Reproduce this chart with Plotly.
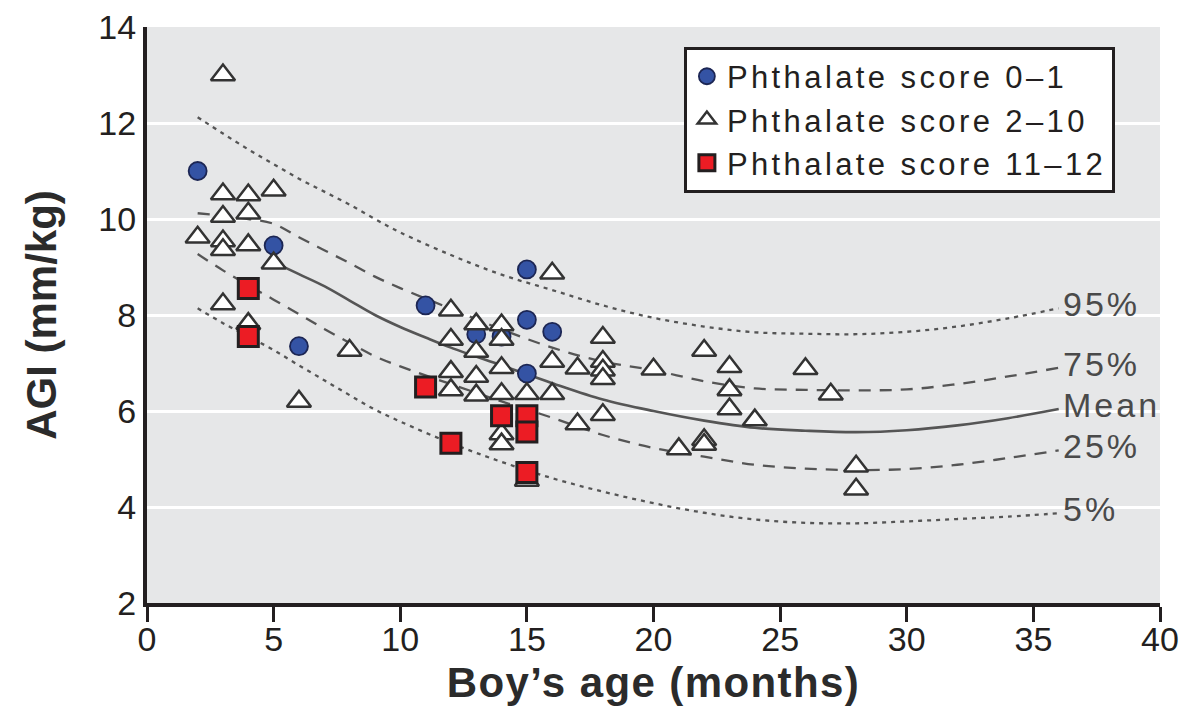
import plotly.graph_objects as go

# Boys' AGI by age, grouped by phthalate exposure score
low_age = [2, 5, 6, 11, 15, 15, 16, 15, 13, 14]
low_agi = [11.0, 9.45, 7.35, 8.2, 8.95, 7.9, 7.65, 6.78, 7.6, 7.55]

mid_age = [3, 3, 4, 5, 3, 4, 2, 3, 3, 4, 5, 3, 4, 6, 8,
           12, 13, 14, 14, 12, 13, 12, 13, 14, 12, 13, 14, 15, 16,
           16, 16, 17, 17, 18, 18, 18, 18, 18, 14, 14, 15,
           20, 21, 22, 22, 22, 23, 23, 23, 24, 26, 27, 28, 28]
mid_agi = [13.0, 10.52, 10.5, 10.6, 10.05, 10.12, 9.62, 9.54, 9.36, 9.46, 9.08, 8.23, 7.82, 6.2, 7.26,
           8.1, 7.81, 7.79, 7.49, 7.49, 7.24, 6.82, 6.72, 6.9, 6.44, 6.33, 6.36, 6.36, 6.36,
           8.87, 7.03, 6.89, 5.73, 7.53, 7.03, 6.85, 6.67, 5.92, 5.52, 5.31, 4.55,
           6.87, 5.21, 7.26, 5.4, 5.3, 6.92, 6.44, 6.04, 5.81, 6.88, 6.35, 4.85, 4.37]

high_age = [4, 4, 11, 12, 14, 15, 15, 15]
high_agi = [8.55, 7.55, 6.5, 5.33, 5.9, 5.9, 5.56, 4.72]

# Reference percentile curves (AGI vs age)
curve_age = [2, 3, 4, 5, 6, 7, 8, 9, 10, 12, 14, 16, 18, 20, 22, 24, 26, 28, 30, 32, 34, 36]
p95 = [12.12, 11.78, 11.45, 11.14, 10.84, 10.57, 10.3, 10.0, 9.72, 9.25, 8.84, 8.52,
       8.2, 7.94, 7.76, 7.64, 7.61, 7.6, 7.65, 7.76, 7.93, 8.14]
p75 = [10.12, 10.07, 10.0, 9.9, 9.62, 9.35, 9.08, 8.8, 8.56, 8.13, 7.7, 7.32,
       7.03, 6.85, 6.62, 6.47, 6.44, 6.43, 6.45, 6.56, 6.72, 6.9]
p25 = [9.27, 8.93, 8.62, 8.32, 8.02, 7.71, 7.42, 7.14, 6.93, 6.56, 6.2, 5.86,
       5.5, 5.23, 5.05, 4.88, 4.8, 4.77, 4.79, 4.88, 5.02, 5.18]
p05 = [8.14, 7.83, 7.55, 7.27, 6.95, 6.64, 6.33, 6.03, 5.78, 5.33, 4.94, 4.6,
       4.32, 4.08, 3.88, 3.74, 3.67, 3.66, 3.7, 3.75, 3.8, 3.87]
mean_age = [5, 6, 7, 8, 9, 10, 11, 12, 14, 16, 18, 20, 22, 24, 26, 28, 30, 32, 34, 36]
mean_agi = [9.1, 8.85, 8.6, 8.3, 8.0, 7.75, 7.53, 7.32, 6.95, 6.58, 6.24, 6.0,
            5.8, 5.65, 5.59, 5.56, 5.6, 5.7, 5.85, 6.04]

x_ticks = [0, 5, 10, 15, 20, 25, 30, 35, 40]
y_ticks = [2, 4, 6, 8, 10, 12, 14]

FONT = "Liberation Sans, Arial, sans-serif"
INK = "#231f20"
CURVE = "#555555"


def spaced(text, px):
    """Wrap text in a span with extra letter spacing."""
    return f'<span style="letter-spacing:{px}px">{text}</span>'


fig = go.Figure()

curves = [
    ("95%", curve_age, p95, "4px,5px"),
    ("75%", curve_age, p75, "12px,9px"),
    ("Mean", mean_age, mean_agi, "solid"),
    ("25%", curve_age, p25, "12px,9px"),
    ("5%", curve_age, p05, "4px,5px"),
]
for label, xs, ys, dash in curves:
    fig.add_trace(go.Scatter(
        x=xs, y=ys, mode="lines", line_shape="spline",
        line=dict(color=CURVE, width=2.3 if dash != "solid" else 2.6, dash=dash),
        showlegend=False, hoverinfo="skip",
    ))
    fig.add_annotation(
        x=xs[-1], y=ys[-1], text=spaced(label, 3), showarrow=False,
        xanchor="left", yanchor="middle", xshift=2, yshift=4,
        font=dict(family=FONT, size=34, color="#4a4a4a"),
    )

fig.add_trace(go.Scatter(
    x=low_age, y=low_agi, mode="markers", name=spaced("Phthalate score 0–1", 3.4),
    marker=dict(symbol="circle", size=18, color="#3453a4",
                line=dict(color="#1c2654", width=1.8)),
))
fig.add_trace(go.Scatter(
    x=mid_age, y=mid_agi, mode="markers", name=spaced("Phthalate score 2–10", 3.4),
    marker=dict(symbol="triangle-up", size=21, color="white",
                line=dict(color="#333333", width=2.5)),
))
fig.add_trace(go.Scatter(
    x=high_age, y=high_agi, mode="markers", name=spaced("Phthalate score 11–12", 3.4),
    marker=dict(symbol="square", size=20, color="#ec1c24",
                line=dict(color=INK, width=3)),
))

fig.update_layout(
    width=1182, height=707,
    margin=dict(l=147, r=22, t=27, b=104),
    paper_bgcolor="white",
    plot_bgcolor="#e6e7e8",
    font=dict(family=FONT, color=INK),
    legend=dict(
        x=0.530, y=0.966, xanchor="left", yanchor="top",
        bgcolor="white", bordercolor=INK, borderwidth=3,
        font=dict(family=FONT, size=31, color=INK),
        tracegroupgap=0, itemsizing="trace",
    ),
    xaxis=dict(
        range=[0, 40], tickvals=x_ticks, ticks="outside", ticklen=15,
        tickwidth=3, tickcolor=INK, showgrid=False, zeroline=False,
        showline=True, linecolor=INK, linewidth=4, automargin=False,
        ticklabelstandoff=-12,
        tickfont=dict(family=FONT, size=34, color=INK),
        title=dict(text=spaced("Boy’s age (months)", 1.4), standoff=12,
                   font=dict(family=FONT, size=42, color="#2b2b2b", weight="bold")),
    ),
    yaxis=dict(
        range=[2, 14], tickvals=y_ticks, ticks="", showgrid=True,
        gridcolor="white", gridwidth=3, zeroline=False,
        showline=True, linecolor=INK, linewidth=4, ticklabelstandoff=0,
        automargin=False,
        tickfont=dict(family=FONT, size=34, color=INK),
        title=dict(text="AGI (mm/kg)", standoff=30,
                   font=dict(family=FONT, size=42, color="#2b2b2b", weight="bold")),
    ),
)

fig.write_html("out.html")
